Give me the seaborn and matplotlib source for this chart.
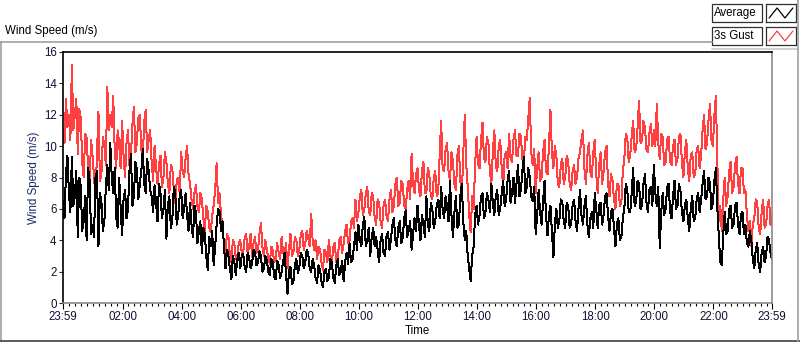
import numpy as np
import pandas as pd
import matplotlib
matplotlib.use('Agg')
import matplotlib.pyplot as plt
from matplotlib.lines import Line2D
from matplotlib.patches import Rectangle
from matplotlib.ticker import FixedLocator
import seaborn as sns

# samples every 3 minutes from 23:59 to 23:59 next day
step_min = 3
average = [
    6.5, 5.4, 8.2, 9.4, 7.0, 5.8, 9.3, 6.2, 6.8, 8.4, 4.2, 8.0, 7.5, 4.6, 5.2, 6.8, 4.0, 8.6, 7.8, 4.4,
    5.0, 4.2, 8.0, 8.4, 3.6, 7.0, 6.5, 4.6, 5.2, 7.4, 8.8, 7.2, 10.2, 8.0, 7.0, 8.6, 5.5, 4.8, 8.0, 6.2,
    4.3, 6.6, 7.2, 5.4, 6.0, 8.4, 9.5, 6.2, 6.8, 9.0, 8.5, 6.6, 7.6, 8.4, 9.8, 7.6, 7.0, 9.2, 8.4, 7.2,
    6.8, 5.8, 7.5, 6.4, 5.2, 7.6, 7.0, 5.4, 6.0, 7.2, 4.1, 6.2, 6.8, 4.8, 5.3, 7.4, 7.0, 5.0, 5.6, 6.8,
    7.2, 5.4, 6.0, 7.0, 5.6, 4.6, 6.4, 5.0, 4.2, 6.2, 5.8, 3.8, 4.6, 5.2, 3.2, 4.8, 4.4, 3.0, 2.1, 4.2,
    3.6, 4.6, 2.4, 3.6, 5.0, 6.0, 5.8, 4.6, 5.2, 3.6, 2.2, 3.4, 3.0, 2.2, 1.5, 3.0, 2.6, 1.8, 2.8, 3.2,
    2.2, 3.0, 3.1, 2.3, 2.0, 3.2, 2.9, 2.2, 2.5, 3.4, 3.2, 2.4, 2.6, 3.3, 3.0, 2.0, 2.2, 3.0, 2.7, 2.0,
    1.8, 2.8, 2.6, 1.7, 1.5, 2.7, 2.4, 1.6, 2.0, 2.6, 3.2, 1.8, 0.6, 2.0, 2.3, 1.2, 1.4, 2.4, 2.8, 1.9,
    2.3, 3.2, 3.0, 2.2, 2.6, 3.4, 3.2, 2.2, 2.0, 2.8, 2.4, 1.6, 1.3, 2.4, 2.1, 1.4, 1.0, 2.0, 2.2, 1.4,
    1.6, 2.8, 2.6, 1.6, 1.3, 2.4, 2.8, 1.8, 2.0, 2.7, 1.4, 2.6, 3.2, 2.5, 3.8, 2.6, 2.8, 3.6, 4.5, 3.4,
    5.0, 4.0, 3.6, 5.0, 5.5, 3.6, 4.0, 4.8, 3.0, 4.2, 4.8, 3.6, 4.2, 3.4, 2.6, 4.0, 4.4, 3.2, 3.0, 4.2,
    4.5, 3.4, 4.0, 5.0, 5.4, 4.0, 3.6, 4.8, 5.2, 3.8, 4.2, 5.4, 5.9, 4.2, 4.6, 5.2, 3.4, 4.4, 5.4, 4.6,
    6.2, 5.0, 4.0, 5.6, 5.0, 4.2, 6.8, 5.0, 4.6, 6.4, 6.0, 4.8, 5.2, 6.2, 6.6, 5.4, 7.4, 6.0, 5.4, 6.8,
    6.2, 5.2, 7.8, 5.6, 4.2, 5.8, 6.8, 4.8, 5.0, 6.8, 7.6, 5.2, 4.0, 4.6, 3.0, 2.2, 1.4, 3.0, 3.6, 5.6,
    6.2, 5.0, 5.6, 6.8, 7.0, 5.4, 5.8, 7.0, 6.6, 5.8, 7.6, 6.4, 5.6, 6.8, 7.2, 5.6, 6.0, 7.0, 7.8, 6.2,
    6.6, 7.8, 8.4, 6.4, 7.0, 8.0, 6.4, 7.6, 8.8, 6.8, 7.2, 8.4, 9.3, 7.0, 7.4, 8.6, 8.0, 6.8, 6.5, 7.4,
    4.4, 5.6, 7.2, 5.8, 5.0, 6.4, 7.8, 5.6, 4.3, 5.6, 6.2, 4.6, 2.9, 5.0, 6.0, 4.8, 5.2, 6.6, 6.5, 5.2,
    4.8, 6.4, 6.2, 4.8, 5.0, 6.2, 6.6, 5.2, 4.6, 6.0, 7.2, 5.6, 5.0, 6.2, 6.8, 5.0, 4.2, 5.4, 5.8, 4.8,
    7.0, 6.0, 4.8, 6.2, 6.4, 5.0, 5.6, 6.8, 7.0, 5.6, 4.6, 5.8, 6.0, 4.8, 3.6, 5.0, 5.4, 4.0, 4.2, 5.4,
    6.0, 7.6, 7.2, 5.8, 5.8, 7.0, 8.6, 6.2, 6.4, 7.8, 7.6, 6.0, 6.2, 7.6, 8.2, 6.4, 5.8, 7.2, 7.4, 6.2,
    8.8, 7.0, 6.2, 7.4, 3.5, 5.8, 7.0, 5.6, 6.0, 7.4, 7.6, 5.8, 5.4, 6.8, 7.8, 6.0, 6.2, 7.6, 7.2, 5.8,
    5.2, 6.2, 6.6, 5.4, 4.6, 6.0, 6.8, 5.2, 5.4, 6.6, 7.0, 5.8, 6.6, 7.6, 8.4, 6.6, 6.8, 8.0, 7.6, 6.0,
    6.4, 7.8, 8.6, 6.0, 4.2, 2.6, 2.4, 4.4, 5.8, 4.4, 4.6, 6.0, 6.2, 4.8, 5.0, 6.2, 6.4, 5.0, 4.4, 5.6,
    5.8, 4.4, 5.0, 3.8, 3.6, 4.6, 4.0, 2.8, 2.2, 3.4, 3.8, 2.4, 2.0, 3.2, 3.6, 2.6, 3.0, 4.2, 4.0, 3.2,
    2.8,
]
gust = [
    11.0, 10.2, 13.0, 11.2, 12.0, 10.4, 15.2, 11.0, 12.0, 13.0, 9.5, 12.4, 11.8, 9.0, 8.0, 10.8, 10.5, 8.6, 7.6, 10.4,
    9.4, 8.0, 6.8, 9.6, 12.2, 7.8, 8.2, 10.6, 10.0, 8.8, 13.8, 11.0, 12.0, 11.2, 13.2, 9.8, 8.6, 11.0, 10.2, 8.6,
    11.6, 9.4, 8.0, 10.2, 11.0, 8.8, 9.4, 11.4, 12.5, 9.6, 10.2, 11.8, 12.0, 9.8, 9.2, 11.6, 12.3, 9.6, 10.4, 11.0,
    9.0, 7.8, 10.0, 8.6, 7.6, 8.8, 9.4, 7.4, 8.0, 9.6, 9.0, 7.6, 7.0, 8.8, 8.6, 7.2, 6.4, 7.8, 8.0, 7.0,
    9.6, 8.4, 8.0, 9.2, 10.0, 8.2, 7.6, 6.6, 6.0, 7.0, 7.5, 6.2, 5.8, 7.0, 6.6, 5.4, 4.6, 6.2, 5.8, 4.8,
    4.5, 5.6, 6.2, 7.2, 8.9, 6.4, 7.0, 5.6, 4.8, 3.8, 3.2, 4.4, 4.2, 3.0, 2.6, 4.0, 3.8, 2.8, 3.0, 3.8,
    4.0, 3.2, 3.2, 4.2, 4.4, 3.2, 3.6, 4.4, 2.9, 3.8, 4.2, 3.2, 3.4, 4.4, 5.1, 3.6, 3.0, 4.0, 3.4, 2.8,
    2.5, 3.6, 3.4, 2.6, 2.8, 3.8, 3.2, 2.8, 4.2, 3.2, 3.0, 3.8, 2.2, 3.4, 4.4, 3.0, 3.2, 4.2, 4.0, 3.0,
    3.4, 4.4, 4.6, 3.4, 3.8, 4.6, 4.2, 3.6, 5.7, 4.0, 3.4, 4.0, 2.8, 3.6, 3.4, 2.6, 2.1, 3.4, 3.2, 2.6,
    4.0, 3.0, 2.6, 3.6, 3.8, 2.6, 2.8, 4.0, 4.2, 3.2, 3.8, 4.6, 5.0, 3.8, 4.0, 5.2, 5.4, 4.8, 6.6, 5.2,
    5.8, 6.8, 7.2, 5.6, 6.0, 7.0, 7.4, 5.8, 5.6, 7.0, 6.8, 5.4, 5.0, 6.6, 6.4, 5.2, 4.8, 6.2, 6.6, 5.6,
    5.2, 6.6, 7.2, 5.8, 6.2, 7.6, 8.0, 6.2, 6.4, 7.8, 7.6, 6.2, 6.0, 7.2, 7.8, 6.6, 9.5, 7.6, 7.0, 8.2,
    8.6, 7.2, 6.8, 8.4, 9.0, 7.0, 7.0, 8.6, 8.2, 6.8, 6.6, 8.0, 8.4, 6.8, 7.0, 9.4, 11.6, 8.6, 8.4, 9.8,
    10.2, 8.4, 7.8, 9.6, 9.0, 7.6, 7.2, 9.4, 10.0, 7.8, 6.8, 9.6, 12.0, 8.8, 7.4, 5.6, 4.5, 6.8, 6.0, 8.8,
    10.6, 8.8, 8.6, 10.4, 11.5, 9.2, 9.0, 10.6, 10.2, 8.4, 7.6, 9.6, 11.0, 8.8, 8.4, 10.0, 10.4, 8.6, 7.4, 9.4,
    9.6, 8.6, 10.8, 9.2, 9.0, 10.4, 11.0, 9.4, 9.4, 10.8, 10.6, 9.2, 9.0, 10.6, 10.4, 11.8, 13.1, 9.6, 8.8, 9.8,
    7.0, 8.6, 9.6, 7.8, 8.0, 9.6, 10.4, 8.4, 8.2, 10.0, 12.3, 9.6, 8.6, 10.0, 9.4, 7.6, 7.4, 8.8, 9.2, 7.6,
    8.0, 9.4, 9.0, 7.6, 7.2, 8.4, 8.8, 7.6, 8.0, 9.2, 9.6, 10.4, 11.0, 8.6, 7.6, 9.4, 10.2, 8.4, 8.0, 9.6,
    10.4, 8.2, 7.0, 8.8, 9.6, 7.6, 8.4, 9.6, 10.0, 7.6, 6.8, 8.2, 7.8, 6.6, 6.0, 7.6, 7.6, 6.2, 6.4, 8.4,
    9.2, 10.8, 10.6, 9.0, 9.4, 10.6, 11.6, 9.6, 9.8, 11.2, 12.9, 10.2, 10.4, 11.6, 11.2, 9.8, 9.6, 10.8, 11.4, 10.0,
    11.0, 10.0, 12.7, 10.2, 9.2, 10.8, 10.6, 8.8, 9.0, 10.4, 10.6, 9.0, 8.8, 10.0, 10.4, 8.8, 9.2, 10.6, 10.8, 9.0,
    8.0, 9.6, 10.4, 8.6, 7.8, 9.4, 9.6, 8.0, 8.2, 9.8, 10.0, 8.6, 9.4, 11.0, 12.0, 9.8, 10.2, 11.6, 12.7, 10.4,
    10.0, 12.0, 13.2, 9.0, 5.2, 6.2, 4.6, 6.6, 8.0, 6.2, 6.8, 8.4, 9.0, 7.0, 7.4, 8.8, 9.3, 7.6, 7.0, 8.6,
    8.6, 7.0, 7.2, 5.6, 4.6, 5.2, 3.6, 5.0, 5.4, 6.6, 6.4, 4.8, 4.4, 5.8, 6.6, 4.8, 5.0, 6.2, 6.6, 5.0,
    5.6,
]
tick_labels = ['23:59', '02:00', '04:00', '06:00', '08:00', '10:00', '12:00',
               '14:00', '16:00', '18:00', '20:00', '22:00', '23:59']
series_names = ['Average', '3s Gust']

assert len(average) == len(gust) == 481, (len(average), len(gust))
minutes = np.arange(len(average)) * step_min
df = pd.DataFrame({'Time': minutes, 'Average': average, '3s Gust': gust})

sns.set_style('white')
plt.rcParams['font.family'] = ['Liberation Sans', 'DejaVu Sans']
plt.rcParams['font.size'] = 8.3

W, H = 800, 342
fig = plt.figure(figsize=(W / 100, H / 100), dpi=100)
ax = fig.add_axes([63 / W, 39 / H, (772 - 63) / W, (303 - 52) / H])

# crisp 1px traces like the original instrument display
sns.lineplot(data=df, x='Time', y='3s Gust', color='#ff4040', lw=0.72, antialiased=False, ax=ax)
sns.lineplot(data=df, x='Time', y='Average', color='black', lw=0.72, antialiased=False, ax=ax)

ax.set_xlim(0, 1440)
ax.set_ylim(0, 16)
ax.set_yticks(range(0, 17, 2))
major = [0] + [1 + 120 * i for i in range(1, 12)] + [1440]
ax.xaxis.set_major_locator(FixedLocator(major))
ax.xaxis.set_minor_locator(FixedLocator(np.arange(13, 1440, 12)))
ax.set_xticklabels(tick_labels)
ax.tick_params(axis='x', which='major', length=4, width=0.8, pad=2, colors='black',
               labelcolor='#111133', direction='out', bottom=True)
ax.tick_params(axis='x', which='minor', length=2.5, width=0.8, color='black', bottom=True)
ax.tick_params(axis='y', length=3, width=0.8, pad=1.5, labelcolor='#111133', left=True)
ax.set_xlabel('Time', labelpad=1, color='black')
ax.set_ylabel('Wind Speed (m/s)', labelpad=3, color='#1a2a66')

for side in ['left', 'top']:
    ax.spines[side].set_color('black')
    ax.spines[side].set_linewidth(1.2)
for side in ['right', 'bottom']:
    ax.spines[side].set_color('#8a8a8a')
    ax.spines[side].set_linewidth(1.2)

# panel frame
def px(x, y):
    return x / W, 1 - y / H

def frame_line(x0, y0, x1, y1, color):
    a, b = px(x0, y0)
    c, d = px(x1, y1)
    fig.add_artist(Line2D([a, c], [b, d], transform=fig.transFigure, color=color, lw=1.2))

frame_line(0, 42, 712, 42, '#a0a0a0')
frame_line(0.5, 42, 0.5, 341, '#a0a0a0')
frame_line(0, 340.5, 800, 340.5, '#404040')
frame_line(712, 49, 798, 49, '#c8c8c8')
frame_line(798, 0, 798, 341, '#a0a0a0')

fig.text(5 / W, 1 - 31 / H, 'Wind Speed (m/s)', ha='left', va='center', color='black')

# legend boxes
colors = ['black', '#ff4040']
for i, (name, col) in enumerate(zip(series_names, colors)):
    top = 4 + 23 * i
    x0, y0 = px(712, top + 18)
    fig.add_artist(Rectangle((x0, y0), 50 / W, 18 / H, transform=fig.transFigure,
                             facecolor='white', edgecolor='#303030', lw=0.9))
    fig.text(714 / W, 1 - (top + 9) / H, name, ha='left', va='center', color='black')
    iax = fig.add_axes([766 / W, 1 - (top + 18) / H, 30 / W, 18 / H])
    iax.plot([0, 1, 2, 3], [0, 1, 0, 1], color=col, lw=0.9)
    iax.set_xlim(-0.4, 3.4)
    iax.set_ylim(-0.4, 1.4)
    iax.set_xticks([])
    iax.set_yticks([])
    for s in iax.spines.values():
        s.set_color('#303030')
        s.set_linewidth(0.9)

fig.savefig('out.png', dpi=100)
